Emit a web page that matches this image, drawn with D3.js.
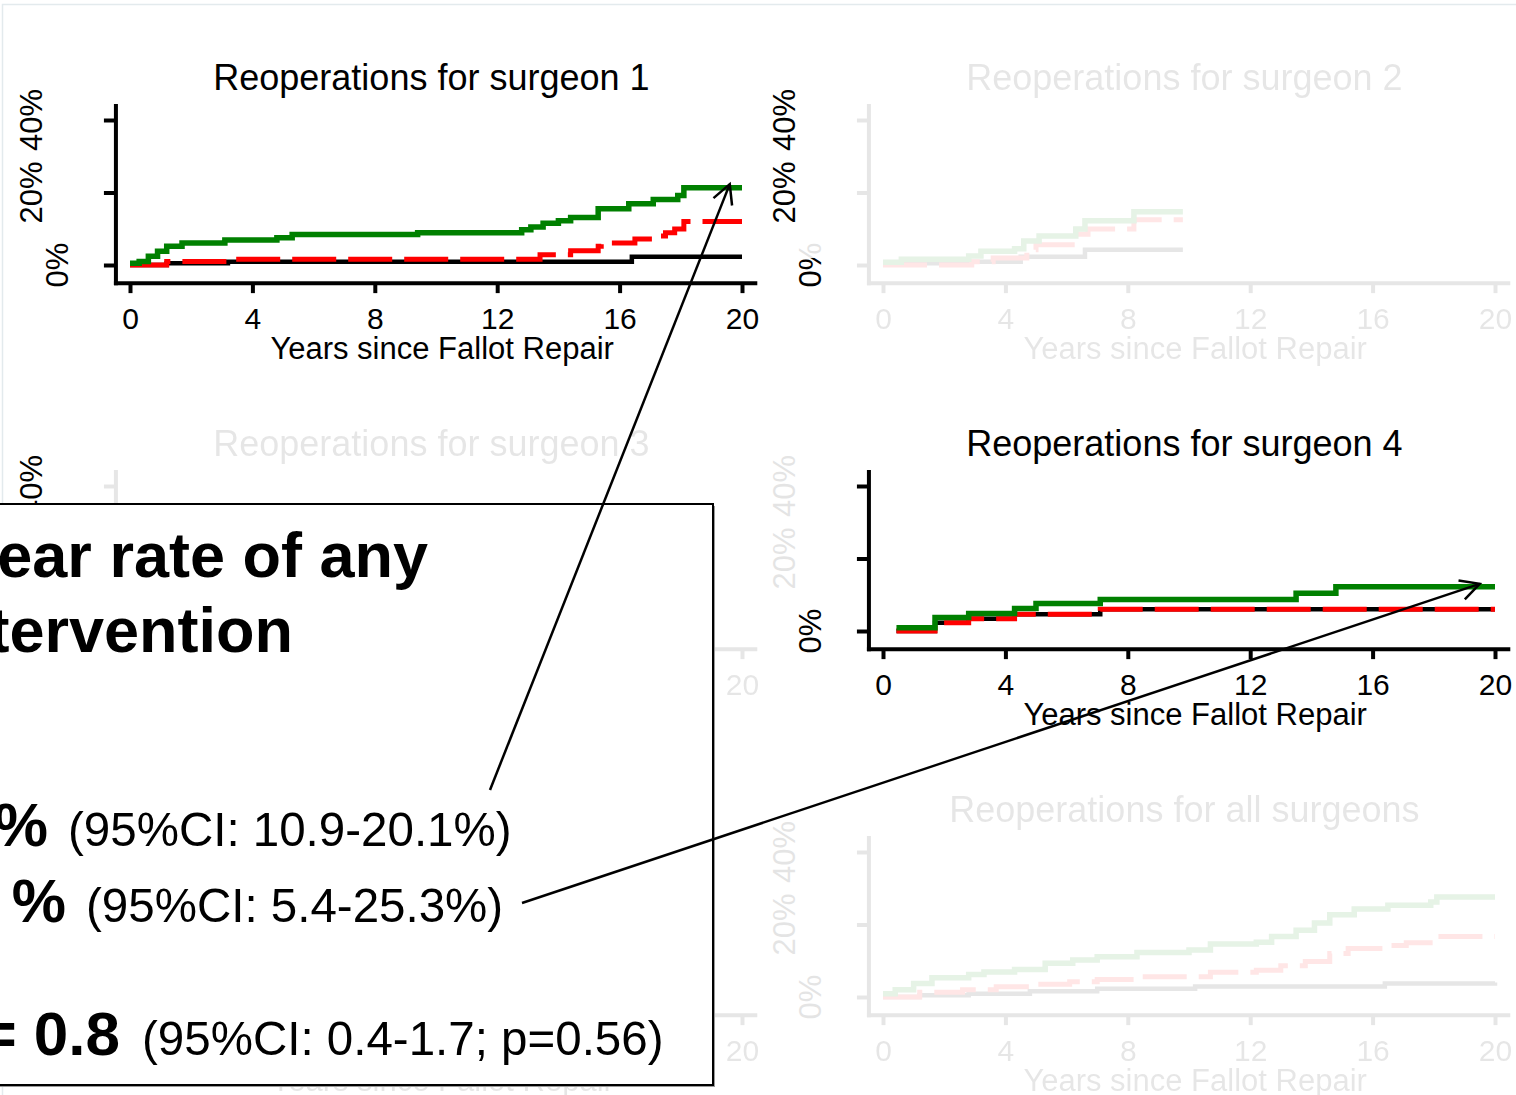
<!DOCTYPE html>
<html>
<head>
<meta charset="utf-8">
<script src="https://cdn.jsdelivr.net/npm/d3@7"></script>
<style>
  html, body { margin: 0; padding: 0; background: #fff; overflow: hidden; }
  svg { display: block; font-family: "Liberation Sans", Arial, Helvetica, sans-serif; }
</style>
</head>
<body>
<svg id="chart" width="1516" height="1095"></svg>
<script>
// ---- data (percent vs years) ----
const xTicks = [0, 4, 8, 12, 16, 20];
const yTicks = [0, 20, 40];
const xLabel = 'Years since Fallot Repair';
const panelTitles = [
  'Reoperations for surgeon 1', 'Reoperations for surgeon 2',
  'Reoperations for surgeon 3', 'Reoperations for surgeon 4',
  'Reoperations for surgeon 5', 'Reoperations for all surgeons'
];

const s1Green = [[0,0.5],[0.3,1.0],[0.6,2.4],[0.9,3.8],[1.2,5.2],[1.7,6.1],[3.1,6.9],[4.8,7.5],[5.3,8.4],[9.4,8.9],[12.8,9.7],[13.1,10.5],[13.5,11.5],[14.0,12.2],[14.4,13.1],[15.3,15.5],[16.3,16.9],[17.1,18.1],[17.9,19.2],[18.1,21.3],[20,21.3]];
const s1Red   = [[0,0],[1.2,1.0],[3.2,1.6],[12.8,1.6],[13.4,2.8],[14.4,3.9],[15.3,5.2],[15.4,6.1],[16.5,7.2],[17.1,8.0],[17.5,8.9],[17.8,9.9],[18.1,12.0],[20,12.0]];
const s1Black = [[0,0],[1.2,0.5],[3.2,0.9],[16.4,2.3],[20,2.3]];

const s2Green = [[0,0.75],[0.6,1.6],[2.8,2.5],[3.2,3.8],[4.3,4.5],[4.6,6.6],[5.1,8.0],[6.3,9.9],[6.6,12.2],[8.2,14.7],[9.8,14.7]];
const s2Red   = [[0,0],[2.9,0.9],[3.6,1.9],[4.7,4.2],[5.0,5.6],[6.4,8.5],[6.7,9.9],[8.2,12.5],[9.8,12.5]];
const s2Black = [[0,0.5],[2.9,0.9],[4.5,2.3],[6.6,4.2],[9.8,4.2]];

const s4Green = [[0.44,0.9],[1.7,3.7],[2.8,4.8],[4.3,6.2],[5.0,7.6],[7.1,8.7],[13.5,10.4],[14.8,12.2],[20,12.2]];
const s4Red   = [[0.44,0],[1.7,2.3],[2.8,3.4],[4.3,4.6],[7.1,6.0],[20,6.0]];
const s4Black = [[0.44,0],[1.7,2.3],[2.8,3.4],[4.3,4.6],[7.1,6.0],[20,6.0]];

const allGreen = [[0,0.9],[0.4,2.0],[1.0,3.7],[1.6,5.3],[2.8,6.2],[3.3,6.9],[4.3,7.6],[5.3,9.3],[6.2,10.2],[7.0,11.1],[8.3,12.3],[10.0,13.0],[10.7,14.6],[12.2,15.1],[12.7,16.7],[13.5,18.4],[14.1,20.4],[14.6,22.7],[15.4,24.3],[16.5,25.3],[17.9,26.2],[18.1,27.6],[20,27.6]];
const allRed   = [[0,0],[1.2,1.3],[2.6,2.0],[3.7,2.8],[4.8,3.5],[6.1,4.2],[7.0,4.8],[8.3,5.6],[10.7,6.8],[12.2,7.4],[13.0,8.6],[13.8,9.8],[14.6,12.0],[15.2,13.4],[16.5,14.2],[17.1,15.0],[18.1,16.7],[20,16.7]];
const allBlack = [[0,0],[1.2,0.5],[2.8,0.9],[4.8,1.6],[7.0,2.3],[10.2,2.9],[16.4,3.7],[20,4.0]];

const boxHeading = ['ear rate of any', 'tervention'];
const boxBold = ['%', '%', '= 0.8'];
const boxCI = ['(95%CI: 10.9-20.1%)', '(95%CI: 5.4-25.3%)', '(95%CI: 0.4-1.7; p=0.56)'];

// arrow tips, in panel data units [year, percent]
const arrowTips = [[19.6, 22.3], [19.5, 13.0]];

// ---- layout ----
const svg = d3.select('#chart');
const defs = svg.append('defs');
const FAINT = 0.1;
const colX = [130, 883];
const rowY = [265, 631, 997];
const BOX = { x: -10, y: 504, w: 723, h: 581 };

const panels = [
  { title: panelTitles[0], col: 0, row: 0, faded: false, lines: [s1Black, s1Red, s1Green], darkLabels: [0, 20, 40] },
  { title: panelTitles[1], col: 1, row: 0, faded: true,  lines: [s2Black, s2Red, s2Green], darkLabels: [20, 40], halfDark: 0 },
  { title: panelTitles[2], col: 0, row: 1, faded: true,  lines: [], darkLabels: [40] },
  { title: panelTitles[3], col: 1, row: 1, faded: false, lines: [s4Black, s4Red, s4Green], darkLabels: [0] },
  { title: panelTitles[4], col: 0, row: 2, faded: true,  lines: [], darkLabels: [] },
  { title: panelTitles[5], col: 1, row: 2, faded: true,  lines: [allBlack, allRed, allGreen], darkLabels: [] }
];

const lineStyles = [
  { color: '#000000', width: 4.5, dash: null },
  { color: '#ff0000', width: 5, dash: '44,12' },
  { color: '#008000', width: 5.5, dash: null }
];

defs.append('marker')
  .attr('id', 'arrowhead')
  .attr('markerUnits', 'userSpaceOnUse')
  .attr('viewBox', '-22 -14 26 28')
  .attr('markerWidth', 26)
  .attr('markerHeight', 28)
  .attr('refX', 0)
  .attr('refY', 0)
  .attr('orient', 'auto')
  .append('path')
  .attr('d', 'M-19,-10 L0,0 L-19,10')
  .attr('fill', 'none')
  .attr('stroke', '#000')
  .attr('stroke-width', 2.5);

// faint slide frame
svg.append('path')
  .attr('d', 'M2.5,1095 L2.5,4.5 L1516,4.5')
  .attr('fill', 'none')
  .attr('stroke', '#e3eaed')
  .attr('stroke-width', 1.5);

panels.forEach(p => {
  p.x = d3.scaleLinear().domain([0, 20]).range([colX[p.col], colX[p.col] + 612]);
  p.y = d3.scaleLinear().domain([0, 40]).range([rowY[p.row], rowY[p.row] - 145]);
});

function drawPanel(p) {
  let x = p.x, y = p.y;
  let g = svg.append('g').attr('class', 'panel');
  let plot = g.append('g').attr('opacity', p.faded ? FAINT : 1);

  plot.append('text')
    .attr('x', x(9.85))
    .attr('y', y(0) - 175)
    .attr('text-anchor', 'middle')
    .style('font-size', '36px')
    .text(p.title);

  let x0 = x(-0.46), x1 = x(20.5);
  let yBase = y(-5);

  // axis lines
  plot.append('line')
    .attr('x1', x0 - 2).attr('x2', x1)
    .attr('y1', yBase).attr('y2', yBase)
    .attr('stroke', '#000').attr('stroke-width', 4);
  plot.append('line')
    .attr('x1', x0).attr('x2', x0)
    .attr('y1', yBase + 2).attr('y2', y(44.4))
    .attr('stroke', '#000').attr('stroke-width', 4);

  let xAxis = d3.axisBottom(x).tickValues(xTicks).tickSize(10).tickSizeOuter(0);
  let xa = plot.append('g').attr('transform', `translate(0,${yBase})`).call(xAxis);
  xa.select('.domain').remove();
  xa.selectAll('line').attr('stroke', '#000').attr('stroke-width', 4);
  xa.selectAll('text').attr('fill', '#000').attr('dy', null).attr('y', 46)
    .style('font-size', '30px').style('font-family', '"Liberation Sans", Arial, sans-serif');

  let yAxis = d3.axisLeft(y).tickValues(yTicks).tickSize(12).tickSizeOuter(0).tickFormat('');
  let ya = plot.append('g').attr('transform', `translate(${x0},0)`).call(yAxis);
  ya.select('.domain').remove();
  ya.selectAll('line').attr('stroke', '#000').attr('stroke-width', 4);

  plot.append('text')
    .attr('x', x(10.2))
    .attr('y', y(0) + 94)
    .attr('text-anchor', 'middle')
    .style('font-size', '31px')
    .text(xLabel);

  // step curves
  let stepLine = d3.line().curve(d3.curveStepAfter).x(d => x(d[0])).y(d => y(d[1]));
  p.lines.forEach((data, i) => {
    let s = lineStyles[i];
    plot.append('path')
      .attr('d', stepLine(data))
      .attr('fill', 'none')
      .attr('stroke', s.color)
      .attr('stroke-width', s.width)
      .attr('stroke-dasharray', s.dash);
  });

  // rotated y labels (0% sits closer to the axis)
  yTicks.forEach(v => {
    let bx = v === 0 ? x0 - 48 : x0 - 74;
    let dark = p.darkLabels.includes(v);
    let label = (parent) => parent.append('text')
      .attr('transform', `translate(${bx},${y(v)}) rotate(-90)`)
      .attr('text-anchor', 'middle')
      .style('font-size', '31px')
      .text(v + '%');
    label(g).attr('opacity', dark ? 1 : FAINT);
    if (p.halfDark === v) {
      let id = 'clip-' + p.col + '-' + p.row;
      defs.append('clipPath').attr('id', id)
        .append('rect').attr('x', bx - 40).attr('y', y(v) - 7).attr('width', 60).attr('height', 50);
      label(g.append('g').attr('clip-path', `url(#${id})`));
    }
  });
}

panels.forEach(drawPanel);

// texts completely covered by the box are not part of the picture
svg.selectAll('g.panel text').each(function() {
  let r = this.getBoundingClientRect();
  if (r.left >= BOX.x && r.right <= BOX.x + BOX.w && r.top >= BOX.y && r.bottom <= BOX.y + BOX.h) {
    d3.select(this).remove();
  }
});

// ---- text box ----
let box = svg.append('g');
box.append('rect')
  .attr('x', BOX.x).attr('y', BOX.y + 2).attr('width', BOX.w + 2).attr('height', BOX.h)
  .attr('fill', '#9a9a9a');
box.append('rect')
  .attr('x', BOX.x).attr('y', BOX.y).attr('width', BOX.w).attr('height', BOX.h)
  .attr('fill', '#fff').attr('stroke', '#000').attr('stroke-width', 2);

box.selectAll('text.heading')
  .data(boxHeading)
  .enter()
  .append('text')
  .attr('class', 'heading')
  .attr('x', (d, i) => i === 0 ? 428 : 293)
  .attr('y', (d, i) => 577 + i * 75)
  .attr('text-anchor', 'end')
  .style('font-size', '63px')
  .style('font-weight', 'bold')
  .text(d => d);

const boldEnd = [48, 66, 120];
const ciStart = [68, 86, 142];
const rowBase = [846, 922, 1055];

box.selectAll('text.bold')
  .data(boxBold)
  .enter()
  .append('text')
  .attr('class', 'bold')
  .attr('x', (d, i) => boldEnd[i])
  .attr('y', (d, i) => rowBase[i])
  .attr('text-anchor', 'end')
  .style('font-size', (d, i) => i === 2 ? '62px' : '61px')
  .style('font-weight', 'bold')
  .text(d => d);

box.selectAll('text.ci')
  .data(boxCI)
  .enter()
  .append('text')
  .attr('class', 'ci')
  .attr('x', (d, i) => ciStart[i])
  .attr('y', (d, i) => rowBase[i])
  .style('font-size', '47.5px')
  .text(d => d);

// ---- arrows ----
const arrowStarts = [[490, 790], [522, 903]];
const arrowPanels = [panels[0], panels[3]];
arrowTips.forEach((t, i) => {
  let p = arrowPanels[i];
  svg.append('line')
    .attr('x1', arrowStarts[i][0]).attr('y1', arrowStarts[i][1])
    .attr('x2', p.x(t[0])).attr('y2', p.y(t[1]))
    .attr('stroke', '#000')
    .attr('stroke-width', 2.5)
    .attr('marker-end', 'url(#arrowhead)');
});
</script>
</body>
</html>
